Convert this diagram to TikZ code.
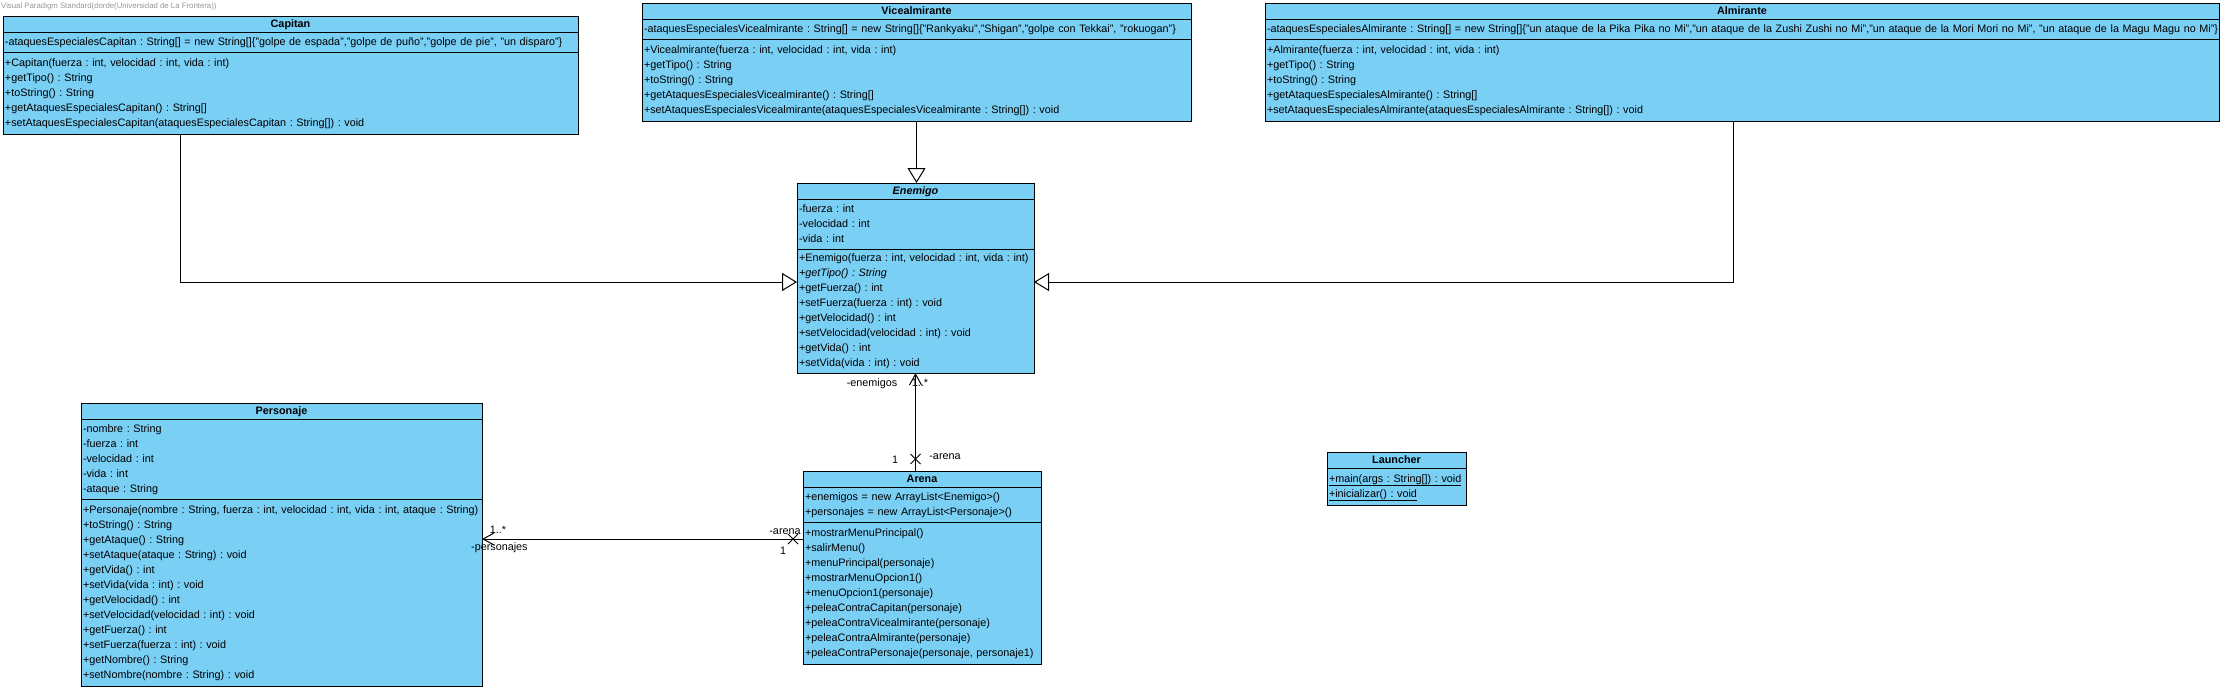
\documentclass[tikz,border=0pt]{standalone}
\usepackage{fontspec}
\setmainfont{Liberation Sans}
\usepackage{xcolor}
\usepackage{tikz}
\usetikzlibrary{shapes.misc,arrows.meta,positioning,calc}
\frenchspacing

\definecolor{vpblue}{RGB}{122,207,245}
\definecolor{vpgray}{RGB}{150,150,150}

\begin{document}
\begin{tikzpicture}[x=1pt, y=-1pt, node distance=0pt,
    cbase/.style={rectangle, draw, line width=1pt, fill=vpblue, outer sep=0pt, inner xsep=2pt,
        font=\fontsize{10.8}{15}\selectfont, execute at begin node=\strut, execute at end node=\strut},
    chead/.style={cbase, text width=#1, align=center, inner ysep=0pt, minimum height=16pt,
        font=\fontsize{10.8}{15}\selectfont\bfseries},
    cattr/.style={cbase, text width=#1, align=left, inner ysep=2.5pt},
    cops/.style={cbase, text width=#1, align=left, inner ysep=3.5pt},
    gen/.style={draw, line width=1pt, -{Triangle[open, length=15pt, width=18pt]}},
    nav/.style={draw, line width=1pt, -{Straight Barb[length=11pt, width=12pt]}},
    xmark/.style={cross out, draw, line width=1pt, minimum size=9pt, inner sep=0pt},
    role/.style={font=\fontsize{10.8}{13}\selectfont, inner sep=0pt}]

    \useasboundingbox (0,0) rectangle (2228,689);
    \node[anchor=west, inner sep=0pt, text=vpgray, font=\fontsize{7.8}{9}\selectfont] (vptitle) at (1,6)
        {Visual Paradigm Standard(dorde(Universidad de La Frontera))};

    % Capitan
    \node[chead=571pt, anchor=north west] (caphead) at (3,16) {Capitan};
    \node[cattr=571pt, below=of caphead] (capattr)
        {-ataquesEspecialesCapitan : String[] = new String[]\{"golpe de espada","golpe de puño","golpe de pie", "un disparo"\}};
    \node[cops=571pt, below=of capattr] (capops)
        {+Capitan(fuerza : int, velocidad : int, vida : int)\\
         +getTipo() : String\\
         +toString() : String\\
         +getAtaquesEspecialesCapitan() : String[]\\
         +setAtaquesEspecialesCapitan(ataquesEspecialesCapitan : String[]) : void};

    % Vicealmirante
    \node[chead=545pt, anchor=north west] (vicehead) at (642,3) {Vicealmirante};
    \node[cattr=545pt, below=of vicehead] (viceattr)
        {-ataquesEspecialesVicealmirante : String[] = new String[]\{"Rankyaku","Shigan","golpe con Tekkai", "rokuogan"\}};
    \node[cops=545pt, below=of viceattr] (viceops)
        {+Vicealmirante(fuerza : int, velocidad : int, vida : int)\\
         +getTipo() : String\\
         +toString() : String\\
         +getAtaquesEspecialesVicealmirante() : String[]\\
         +setAtaquesEspecialesVicealmirante(ataquesEspecialesVicealmirante : String[]) : void};

    % Almirante
    \node[chead=950pt, anchor=north west] (almhead) at (1265,3) {Almirante};
    \node[cattr=950pt, below=of almhead] (almattr)
        {\mbox{-ataquesEspecialesAlmirante : String[] = new String[]\{"un ataque de la Pika Pika no Mi","un ataque de la Zushi Zushi no Mi","un ataque de la Mori Mori no Mi", "un ataque de la Magu Magu no Mi"\}}};
    \node[cops=950pt, below=of almattr] (almops)
        {+Almirante(fuerza : int, velocidad : int, vida : int)\\
         +getTipo() : String\\
         +toString() : String\\
         +getAtaquesEspecialesAlmirante() : String[]\\
         +setAtaquesEspecialesAlmirante(ataquesEspecialesAlmirante : String[]) : void};

    % Enemigo
    \node[chead=233pt, anchor=north west] (enehead) at (797,183) {\textit{Enemigo}};
    \node[cattr=233pt, below=of enehead] (eneattr)
        {-fuerza : int\\
         -velocidad : int\\
         -vida : int};
    \node[cops=233pt, inner ysep=2pt, below=of eneattr] (eneops)
        {\mbox{+Enemigo(fuerza : int, velocidad : int, vida : int)}\\
         \textit{+getTipo() : String}\\
         +getFuerza() : int\\
         +setFuerza(fuerza : int) : void\\
         +getVelocidad() : int\\
         +setVelocidad(velocidad : int) : void\\
         +getVida() : int\\
         +setVida(vida : int) : void};

    % Personaje
    \node[chead=397pt, anchor=north west] (perhead) at (81,403) {Personaje};
    \node[cattr=397pt, below=of perhead] (perattr)
        {-nombre : String\\
         -fuerza : int\\
         -velocidad : int\\
         -vida : int\\
         -ataque : String};
    \node[cops=397pt, below=of perattr] (perops)
        {\mbox{+Personaje(nombre : String, fuerza : int, velocidad : int, vida : int, ataque : String)}\\
         +toString() : String\\
         +getAtaque() : String\\
         +setAtaque(ataque : String) : void\\
         +getVida() : int\\
         +setVida(vida : int) : void\\
         +getVelocidad() : int\\
         +setVelocidad(velocidad : int) : void\\
         +getFuerza() : int\\
         +setFuerza(fuerza : int) : void\\
         +getNombre() : String\\
         +setNombre(nombre : String) : void};

    % Arena
    \node[chead=234pt, anchor=north west] (arehead) at (803,471) {Arena};
    \node[cattr=234pt, below=of arehead] (areattr)
        {+enemigos = new ArrayList<Enemigo>()\\
         +personajes = new ArrayList<Personaje>()};
    \node[cops=234pt, below=of areattr] (areops)
        {+mostrarMenuPrincipal()\\
         +salirMenu()\\
         +menuPrincipal(personaje)\\
         +mostrarMenuOpcion1()\\
         +menuOpcion1(personaje)\\
         +peleaContraCapitan(personaje)\\
         +peleaContraVicealmirante(personaje)\\
         +peleaContraAlmirante(personaje)\\
         +peleaContraPersonaje(personaje, personaje1)};

    % Launcher
    \node[chead=135pt, anchor=north west] (lauhead) at (1327,452) {Launcher};
    \node[cops=135pt, below=of lauhead] (lauops)
        {\underline{+main(args : String[]) : void}\\
         \underline{+inicializar() : void}};

    % generalizations
    \coordinate (capbend) at (180,282);
    \coordinate (almbend) at (1733,282);
    \draw[gen] (capops.south -| capbend) |- (eneops.west |- capbend);
    \draw[gen] (viceops.south) -- (viceops.south |- enehead.north);
    \draw[gen] (almops.south -| almbend) |- (eneops.east |- almbend);

    % associations
    \coordinate (pery) at (0,539);
    \draw[nav] (eneops.south |- arehead.north) -- (eneops.south);
    \node[xmark] (arenax1) at (915.5,459) {};
    \draw[nav] (areops.west |- pery) -- (perops.east |- pery);
    \node[xmark] (arenax2) at (793,539) {};

    \node[role] (enelbl) at (872,384) {-enemigos};
    \node[role] (enemul) at (920,383) {1..*};
    \node[role] (arelbl1) at (945,457) {-arena};
    \node[role] (aremul1) at (895,460) {1};
    \node[role, anchor=west] (perlbl) at (471,548) {-personajes};
    \node[role] (permul) at (498,530) {1..*};
    \node[role] (arelbl2) at (785,532) {-arena};
    \node[role] (aremul2) at (783,551) {1};

\end{tikzpicture}
\end{document}
